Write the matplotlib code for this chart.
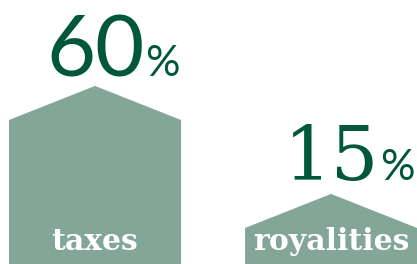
import matplotlib
matplotlib.use("Agg")
import matplotlib.pyplot as plt
from matplotlib.patches import Polygon

categories = ["taxes", "royalities"]
values = [60, 15]
value_labels = ["60", "15"]
value_fonts = [("Lato", 61), ("DejaVu Serif", 54)]
value_offsets = [7, 10]

BAR_COLOR = "#84a698"
TEXT_COLOR = "#00573b"
ROOF = 14.2
WIDTH = 0.729

fig = plt.figure(figsize=(4.17, 2.64), dpi=100)
ax = fig.add_axes([0, 0, 1, 1])
ax.set_xlim(-0.4025, 1.364)
ax.set_ylim(0, 110)
ax.axis("off")

for i, (cat, v, lab, (fam, fs), off) in enumerate(
        zip(categories, values, value_labels, value_fonts, value_offsets)):
    l, r = i - WIDTH / 2, i + WIDTH / 2
    poly = Polygon([(l, 0), (l, v), (i, v + ROOF), (r, v), (r, 0)],
                   closed=True, facecolor=BAR_COLOR, edgecolor="none")
    ax.add_patch(poly)
    t = ax.annotate(lab, xy=(i, v + ROOF), xytext=(0, off), textcoords="offset points",
                    ha="center", va="baseline", fontsize=fs, color=TEXT_COLOR,
                    family=fam)
    ax.annotate("%", xy=(1, v + ROOF), xycoords=(t, "data"), xytext=(1, off),
                textcoords="offset points", ha="left", va="baseline",
                fontsize=31, color=TEXT_COLOR, family="Lato")
    ax.annotate(cat, xy=(i, 0), xytext=(0, 10), textcoords="offset points",
                ha="center", va="baseline", fontsize=21.5, fontweight="bold",
                color="white", family="DejaVu Serif")

fig.savefig("out.png", dpi=100)
